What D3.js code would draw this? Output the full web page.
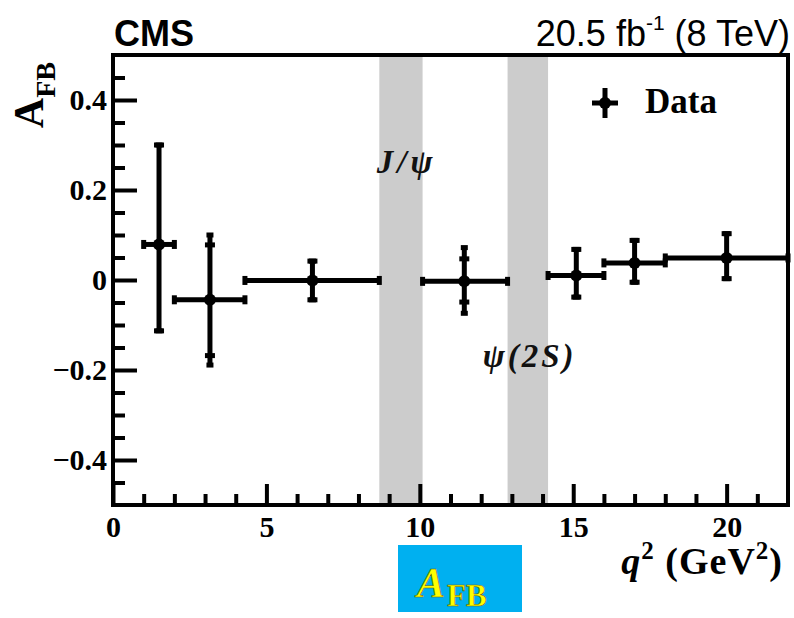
<!DOCTYPE html>
<html>
<head>
<meta charset="utf-8">
<script src="https://cdn.jsdelivr.net/npm/d3@7"></script>
<style>
  body { margin: 0; background: #fff; }
  svg { display: block; }
</style>
</head>
<body>
<script>
// q^2 bins and measured A_FB values
const binLo = [1, 2, 4.3, 10.09, 14.18, 16, 18];
const binHi = [2, 4.3, 8.68, 12.86, 16, 18, 22];
const qCenter = [1.5, 3.16, 6.5, 11.45, 15.1, 17.0, 20.0];
const afb = [0.079, -0.044, -0.001, -0.003, 0.010, 0.038, 0.049];
// total errors (line ends) and statistical errors (caps)
const errTotHi = [0.221, 0.144, 0.043, 0.075, 0.058, 0.050, 0.054];
const errTotLo = [0.192, 0.145, 0.043, 0.071, 0.048, 0.043, 0.046];
const errStatHi = [0.221, 0.122, 0.043, 0.050, 0.058, 0.050, 0.054];
const errStatLo = [0.192, 0.124, 0.043, 0.046, 0.048, 0.043, 0.046];

// vetoed charmonium regions
const vetoNames = ["J/ψ", "ψ(2S)"];
const vetoLo = [8.68, 12.86];
const vetoHi = [10.09, 14.18];

const xMajor = [0, 5, 10, 15, 20];
const yMajor = [-0.4, -0.2, 0, 0.2, 0.4];

const width = 794;
const height = 618;
const padL = 113, padR = 788, padT = 55, padB = 505;

const x = d3.scaleLinear().domain([0, 22]).range([padL, padR]);
const y = d3.scaleLinear().domain([-0.5, 0.5]).range([padB, padT]);

const svg = d3.select('body').append('svg')
  .attr('width', width)
  .attr('height', height);

// grey veto bands
svg.append('g').selectAll('rect')
  .data(vetoLo)
  .enter().append('rect')
    .attr('x', (d) => x(d))
    .attr('y', padT)
    .attr('width', (d, i) => x(vetoHi[i]) - x(d))
    .attr('height', padB - padT)
    .attr('fill', '#cccccc');

// axes
const serif = '"Liberation Serif", "Times New Roman", serif';

svg.append('g')
  .attr('transform', `translate(0,${padB})`)
  .call(d3.axisBottom(x).tickValues(xMajor).tickSize(-21).tickPadding(11).tickFormat(d3.format('d')));
svg.append('g')
  .attr('transform', `translate(0,${padB})`)
  .call(d3.axisBottom(x).tickValues(d3.range(1, 22).filter((v) => v % 5 !== 0)).tickSize(-11).tickFormat(''));

svg.append('g')
  .attr('transform', `translate(${padL},0)`)
  .call(d3.axisLeft(y).tickValues(yMajor).tickSize(-24).tickPadding(6)
    .tickFormat((d) => d === 0 ? '0' : d3.format('.1f')(d)));
svg.append('g')
  .attr('transform', `translate(${padL},0)`)
  .call(d3.axisLeft(y).tickValues([-0.45, -0.35, -0.3, -0.25, -0.15, -0.1, -0.05, 0.05, 0.1, 0.15, 0.25, 0.3, 0.35, 0.45])
    .tickSize(-12).tickFormat(''));

svg.selectAll('.domain').remove();
svg.selectAll('.tick line').attr('stroke', '#000').attr('stroke-width', 4);
svg.selectAll('.tick text')
  .attr('fill', '#000')
  .style('font-family', serif)
  .style('font-weight', 'bold')
  .style('font-size', '30px');

// data points
const pts = svg.append('g');
const idx = d3.range(afb.length);

// horizontal bars (bin widths)
pts.selectAll('line.hbar').data(idx).enter().append('line')
  .attr('x1', (i) => x(binLo[i])).attr('x2', (i) => x(binHi[i]))
  .attr('y1', (i) => y(afb[i])).attr('y2', (i) => y(afb[i]))
  .attr('stroke', '#000').attr('stroke-width', 5);

// vertical total errors
pts.selectAll('line.vbar').data(idx).enter().append('line')
  .attr('x1', (i) => x(qCenter[i])).attr('x2', (i) => x(qCenter[i]))
  .attr('y1', (i) => y(afb[i] + errTotHi[i])).attr('y2', (i) => y(afb[i] - errTotLo[i]))
  .attr('stroke', '#000').attr('stroke-width', 5);

idx.forEach((i) => {
  // caps at bin edges
  [binLo[i], binHi[i]].forEach((q) => {
    pts.append('rect')
      .attr('x', x(q) - 2.5).attr('y', y(afb[i]) - 4.5)
      .attr('width', 5).attr('height', 9).attr('fill', '#000');
  });
  // statistical error caps
  [afb[i] + errStatHi[i], afb[i] - errStatLo[i]].forEach((v) => {
    pts.append('rect')
      .attr('x', x(qCenter[i]) - 5).attr('y', y(v) - 2.5)
      .attr('width', 10).attr('height', 5).attr('fill', '#000');
  });
  // total error ends
  [afb[i] + errTotHi[i], afb[i] - errTotLo[i]].forEach((v) => {
    pts.append('rect')
      .attr('x', x(qCenter[i]) - 3.5).attr('y', y(v) - 2.5)
      .attr('width', 7).attr('height', 5).attr('fill', '#000');
  });
});

pts.selectAll('circle').data(idx).enter().append('circle')
  .attr('cx', (i) => x(qCenter[i])).attr('cy', (i) => y(afb[i]))
  .attr('r', 6).attr('fill', '#000');

// frame
svg.append('rect')
  .attr('x', padL).attr('y', padT)
  .attr('width', padR - padL).attr('height', padB - padT)
  .attr('fill', 'none').attr('stroke', '#000').attr('stroke-width', 4);

// band labels
svg.append('text')
  .attr('x', x(8.6)).attr('y', y(0.238))
  .style('font-family', serif).style('font-style', 'italic').style('font-weight', 'bold')
  .style('font-size', '33px').style('letter-spacing', '4px')
  .attr('fill', '#111')
  .text(vetoNames[0]);
svg.append('text')
  .attr('x', x(12.05)).attr('y', y(-0.193))
  .style('font-family', serif).style('font-style', 'italic').style('font-weight', 'bold')
  .style('font-size', '33px').style('letter-spacing', '3px')
  .attr('fill', '#111')
  .text(vetoNames[1]);

// legend
const leg = svg.append('g').attr('transform', 'translate(605,103)');
leg.append('line').attr('x1', -13).attr('x2', 13).attr('stroke', '#000').attr('stroke-width', 5);
leg.append('line').attr('y1', -15).attr('y2', 15).attr('stroke', '#000').attr('stroke-width', 5);
leg.append('circle').attr('r', 6).attr('fill', '#000');
svg.append('text')
  .attr('x', 645).attr('y', 113)
  .style('font-family', serif).style('font-weight', 'bold').style('font-size', '35px')
  .text('Data');

// CMS label and luminosity
const sans = '"Liberation Sans", Arial, Helvetica, sans-serif';
svg.append('text')
  .attr('x', 114).attr('y', 46)
  .style('font-family', sans).style('font-weight', 'bold').style('font-size', '36px')
  .text('CMS');
const lumi = svg.append('text')
  .attr('x', 790).attr('y', 46).attr('text-anchor', 'end')
  .style('font-family', sans).style('font-size', '36px');
lumi.append('tspan').text('20.5 fb');
lumi.append('tspan').attr('dy', -16).style('font-size', '21px').text('-1');
lumi.append('tspan').attr('dy', 16).text(' (8 TeV)');

// y axis title
const yt = svg.append('text')
  .attr('transform', 'translate(43,62) rotate(-90)')
  .attr('text-anchor', 'end')
  .style('font-family', serif).style('font-weight', 'bold');
yt.append('tspan').style('font-size', '42px').text('A');
yt.append('tspan').attr('dy', 12).style('font-size', '28px').text('FB');

// x axis title
const xt = svg.append('text')
  .attr('x', 783).attr('y', 574).attr('text-anchor', 'end')
  .style('font-family', serif).style('font-weight', 'bold').style('font-size', '38px')
  .style('letter-spacing', '1px');
xt.append('tspan').style('font-style', 'italic').text('q');
xt.append('tspan').attr('dy', -15).style('font-size', '25px').text('2');
xt.append('tspan').attr('dy', 15).text(' (GeV');
xt.append('tspan').attr('dy', -15).style('font-size', '25px').text('2');
xt.append('tspan').attr('dy', 15).text(')');

// A_FB badge
svg.append('rect')
  .attr('x', 398).attr('y', 545).attr('width', 124).attr('height', 67)
  .attr('fill', '#00b0f0');
const badge = svg.append('text')
  .attr('x', 417).attr('y', 597)
  .attr('fill', '#ffff00').attr('stroke', '#6b5a00').attr('stroke-width', 0.6)
  .style('font-family', serif).style('font-weight', 'bold');
badge.append('tspan').style('font-style', 'italic').style('font-size', '42px').text('A');
badge.append('tspan').attr('dy', 9).attr('dx', 2).style('font-size', '31px').text('FB');
</script>
</body>
</html>
